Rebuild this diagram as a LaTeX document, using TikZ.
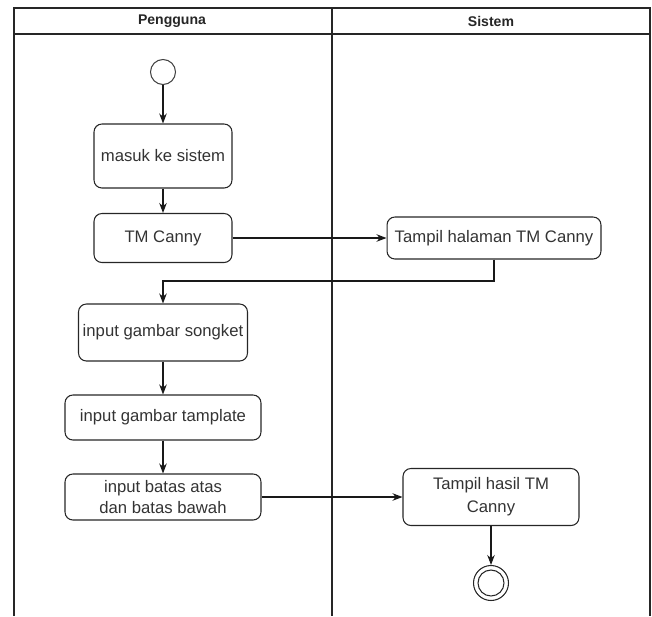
\documentclass[tikz,border=0pt]{standalone}
\usepackage{fontspec}
\setmainfont{Liberation Sans}
\usetikzlibrary{arrows.meta}

\begin{document}
\begin{tikzpicture}[x=0.02cm, y=-0.02cm, >=Stealth,
  act/.style={draw=black!85, line width=0.6pt, rounded corners=4.5pt, inner sep=1pt, align=center, text=black!80, font=\fontsize{9.5}{12}\selectfont},
  flow/.style={->, line width=0.6pt, black!90},
  lane/.style={line width=0.8pt, black!85},
  head/.style={font=\fontsize{8}{9}\selectfont\bfseries, text=black!85}]
\useasboundingbox (0,0) rectangle (652,616);

%swimlanes
\draw[lane] (14,616)--(14,8)--(650,8)--(650,616);
\draw[lane] (14,34)--(650,34);
\draw[lane] (332,8)--(332,616);
\node[head] (pengguna) at (172,21) {Pengguna};
\node[head] (sistem) at (491,21) {Sistem};

%activities
\node[circle, draw=black!75, line width=0.6pt, minimum size=0.5cm, inner sep=0pt] (start) at (163,72) {};
\node[act, minimum width=2.76cm, minimum height=1.28cm] (masuk) at (163,156) {masuk ke sistem};
\node[act, minimum width=2.76cm, minimum height=0.98cm] (tmc) at (163,238) {TM Canny};
\node[act, minimum width=4.28cm, minimum height=0.84cm] (halaman) at (494,238) {Tampil halaman TM Canny};
\node[act, minimum width=3.38cm, minimum height=1.14cm] (songket) at (163,332.5) {input gambar songket};
\node[act, minimum width=3.92cm, minimum height=0.9cm] (tamplate) at (163,417.5) {input gambar tamplate};
\node[act, minimum width=3.92cm, minimum height=0.92cm] (batas) at (163,497) {input batas atas\\dan batas bawah};
\node[act, minimum width=3.52cm, minimum height=1.14cm, font=\fontsize{9.5}{13}\selectfont] (hasil) at (491,497) {Tampil hasil TM\\Canny};
\node[circle, draw=black!85, line width=0.6pt, minimum size=0.7cm, inner sep=0pt] (end) at (491,583) {};
\node[circle, draw=black!85, line width=0.6pt, minimum size=0.52cm, inner sep=0pt] (endin) at (end) {};
\coordinate (bend) at (163,281);

%flows
\draw[flow] (start)--(masuk);
\draw[flow] (masuk)--(tmc);
\draw[flow] (tmc)--(halaman);
\draw[flow] (halaman.south) |- (bend)--(songket);
\draw[flow] (songket)--(tamplate);
\draw[flow] (tamplate)--(batas);
\draw[flow] (batas)--(hasil);
\draw[flow] (hasil)--(end);

\end{tikzpicture}
\end{document}
